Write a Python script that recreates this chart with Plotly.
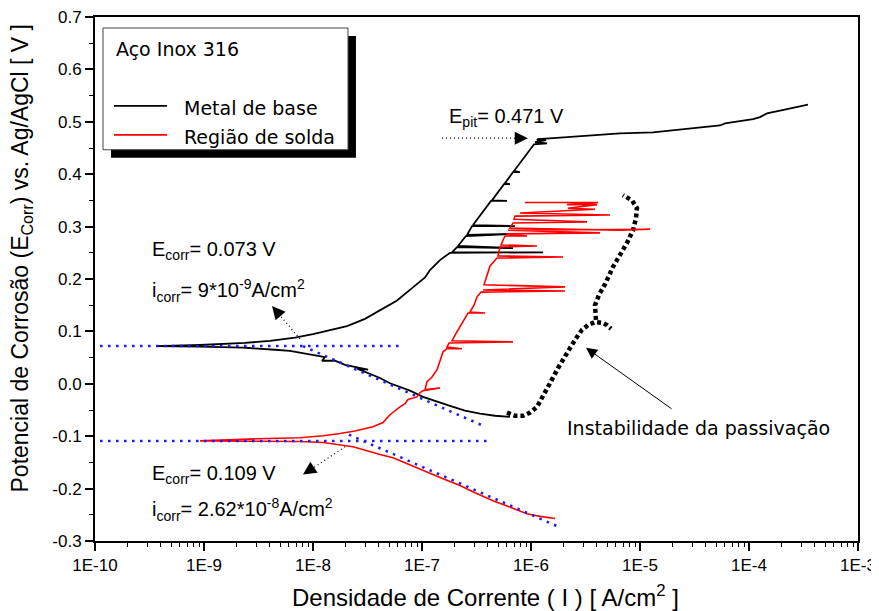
import plotly.graph_objects as go

# ---------------- data (log10 of current density [A/cm2], potential [V]) ----------------
base_logi = [-6.193, -6.330, -6.468, -6.606, -6.743, -6.881, -6.991, -7.110, -7.202, -7.294,
             -7.385, -7.477, -7.596, -7.495, -7.706, -7.798, -7.917, -7.890, -8.119, -8.211,
             -8.349, -8.486, -8.642, -9.037, -9.431,
             -9.037, -8.624, -8.394, -8.165, -8.0, -7.844, -7.688, -7.523, -7.385, -7.229,
             -7.083, -6.972, -6.927, -6.835, -6.743,
             -5.890, -6.725, -6.679, -6.165, -6.670, -6.597, -6.165, -6.587, -6.541, -6.147,
             -6.532, -6.367, -6.220, -6.358, -6.248, -6.193, -6.239, -6.165, -6.101, -6.156,
             -5.972, -5.853, -5.963, -5.862, -5.945, -5.936, -5.798, -5.486, -5.183, -4.881,
             -4.569, -4.266, -4.220, -3.963, -3.899, -3.835, -3.651, -3.459]
base_e = [-0.063, -0.061, -0.057, -0.051, -0.042, -0.032, -0.025, -0.013, -0.006, 0.001,
          0.011, 0.019, 0.029, 0.027, 0.036, 0.044, 0.044, 0.051, 0.060, 0.063,
          0.065, 0.067, 0.069, 0.071, 0.072,
          0.074, 0.078, 0.082, 0.088, 0.095, 0.103, 0.110, 0.124, 0.140, 0.159,
          0.184, 0.203, 0.217, 0.236, 0.250,
          0.251, 0.251, 0.261, 0.259, 0.263, 0.282, 0.286, 0.284, 0.301, 0.301,
          0.303, 0.349, 0.349, 0.350, 0.381, 0.381, 0.383, 0.404, 0.404, 0.406,
          0.457, 0.459, 0.461, 0.465, 0.465, 0.467, 0.469, 0.474, 0.478, 0.480,
          0.486, 0.493, 0.497, 0.505, 0.509, 0.516, 0.524, 0.533]

# passivation instability (dotted continuation of the base metal curve)
instab_logi_a = [-6.220, -6.147, -6.073, -6.009, -5.945, -5.890, -5.826, -5.752, -5.670, -5.596,
                 -5.532, -5.477, -5.413, -5.339, -5.303, -5.266]
instab_e_a = [-0.055, -0.061, -0.061, -0.055, -0.044, -0.025, 0.001, 0.030, 0.059, 0.084,
              0.103, 0.112, 0.118, 0.116, 0.112, 0.105]
instab_logi_b = [-5.404, -5.413, -5.413, -5.376, -5.321, -5.248, -5.183, -5.119, -5.064, -5.037,
                 -5.028, -5.073, -5.156]
instab_e_b = [0.122, 0.135, 0.150, 0.170, 0.190, 0.223, 0.246, 0.269, 0.293, 0.316,
              0.335, 0.350, 0.360]

solda_logi = [-5.780, -5.917, -6.037, -6.193, -6.349, -6.514, -6.651, -6.807, -6.954, -7.110,
              -7.266, -7.385, -7.477, -7.569, -7.633, -7.706, -7.780, -7.908, -8.119, -8.514,
              -9.037,
              -8.514, -8.119, -7.908, -7.752, -7.615, -7.450, -7.358, -7.294, -7.202, -7.156,
              -7.128, -7.046, -7.018, -6.991, -6.835, -6.972, -6.954, -6.908, -6.862, -6.835,
              -6.807, -6.771, -6.633, -6.771, -6.752, -6.165, -6.725, -6.697, -6.651, -6.606,
              -6.578, -6.422, -6.560, -6.523, -6.495, -6.459, -5.688, -6.440, -5.688, -6.431,
              -6.376, -6.312, -5.706, -6.303, -6.284, -5.945, -6.275, -6.257, -6.239, -6.037,
              -6.229, -5.367, -6.211, -4.908, -5.183, -6.193, -6.165, -5.486, -6.156, -6.147,
              -5.275, -6.101, -5.413, -5.661, -5.394, -5.670, -5.385, -6.055]
solda_e = [-0.257, -0.253, -0.248, -0.236, -0.223, -0.208, -0.194, -0.181, -0.168, -0.154,
           -0.141, -0.135, -0.130, -0.124, -0.120, -0.118, -0.116, -0.112, -0.110, -0.110,
           -0.109,
           -0.105, -0.103, -0.099, -0.095, -0.090, -0.082, -0.074, -0.059, -0.044, -0.038,
           -0.030, -0.025, -0.017, -0.013, -0.008, -0.011, 0.004, 0.013, 0.027, 0.042,
           0.061, 0.067, 0.067, 0.070, 0.078, 0.080, 0.082, 0.093, 0.109, 0.126,
           0.135, 0.135, 0.137, 0.150, 0.166, 0.175, 0.177, 0.179, 0.185, 0.189,
           0.225, 0.240, 0.242, 0.244, 0.261, 0.263, 0.265, 0.274, 0.282, 0.282,
           0.286, 0.288, 0.293, 0.295, 0.293, 0.297, 0.307, 0.309, 0.314, 0.320,
           0.322, 0.326, 0.333, 0.335, 0.342, 0.342, 0.346, 0.346]

# Tafel extrapolation lines
tafel_base_h_logi = [-9.954, -7.202]
tafel_base_h_e = [0.072, 0.072]
tafel_base_c_logi = [-8.092, -6.440]
tafel_base_c_e = [0.072, -0.080]
tafel_solda_h_logi = [-9.954, -6.358]
tafel_solda_h_e = [-0.109, -0.109]
tafel_solda_c_logi = [-7.670, -5.734]
tafel_solda_c_e = [-0.097, -0.274]

x_tick_vals = [1e-10, 1e-9, 1e-8, 1e-7, 1e-6, 1e-5, 1e-4, 1e-3]
x_tick_text = ["1E-10", "1E-9", "1E-8", "1E-7", "1E-6", "1E-5", "1E-4", "1E-3"]
y_tick_vals = [-0.3, -0.2, -0.1, 0.0, 0.1, 0.2, 0.3, 0.4, 0.5, 0.6, 0.7]
y_tick_text = ["-0.3", "-0.2", "-0.1", "0.0", "0.1", "0.2", "0.3", "0.4", "0.5", "0.6", "0.7"]


def cur(vals):
    return [10 ** v for v in vals]


fig = go.Figure()

fig.add_trace(go.Scatter(x=cur(base_logi), y=base_e, mode="lines",
                         line=dict(color="black", width=1.8), showlegend=False))
fig.add_trace(go.Scatter(x=cur(instab_logi_a), y=instab_e_a, mode="lines",
                         line=dict(color="black", width=4.5, dash="4px,3px"), showlegend=False))
fig.add_trace(go.Scatter(x=cur(instab_logi_b), y=instab_e_b, mode="lines",
                         line=dict(color="black", width=4.5, dash="4px,3px"), showlegend=False))
fig.add_trace(go.Scatter(x=cur(solda_logi), y=solda_e, mode="lines",
                         line=dict(color="#ff0000", width=1.6), showlegend=False))

for lx, ly in [(tafel_base_h_logi, tafel_base_h_e), (tafel_base_c_logi, tafel_base_c_e),
               (tafel_solda_h_logi, tafel_solda_h_e), (tafel_solda_c_logi, tafel_solda_c_e)]:
    fig.add_trace(go.Scatter(x=cur(lx), y=ly, mode="lines",
                             line=dict(color="#1a1aff", width=2.5, dash="2.5px,5.5px"),
                             showlegend=False))

# dotted arrow stems
for sx, sy in [([-6.817, -6.083], [0.469, 0.469]),
               ([-8.119, -8.330], [0.0857, 0.137]),
               ([-7.706, -8.046], [-0.120, -0.1676])]:
    fig.add_trace(go.Scatter(x=cur(sx), y=sy, mode="lines",
                             line=dict(color="black", width=1.2, dash="1px,3px"),
                             showlegend=False))

arial = "Liberation Sans, Arial, sans-serif"
tahoma = "DejaVu Sans, Verdana, sans-serif"

annotations = []
# arrow heads
for (tx, ty, ax, ay) in [(-6.028, 0.4686, -10, 0), (-8.376, 0.1486, 6.5, 7.6),
                         (-8.092, -0.173, 8.3, -5.5)]:
    annotations.append(dict(x=tx, y=ty, xref="x", yref="y", ax=ax, ay=ay, text="",
                            showarrow=True, arrowhead=2, arrowsize=2.2, arrowwidth=1.2,
                            arrowcolor="black"))
annotations.append(dict(x=-5.495, y=0.0686, xref="x", yref="y", ax=87, ay=62, text="",
                        showarrow=True, arrowhead=2, arrowsize=2.2, arrowwidth=1,
                        arrowcolor="black"))

texts = [
    (-6.771, 0.5086, "E<sub>pit</sub>= 0.471 V"),
    (-9.495, 0.2552, "E<sub>corr</sub>= 0.073 V"),
    (-9.495, 0.179, "i<sub>corr</sub>= 9*10<sup>-9</sup>A/cm<sup>2</sup>"),
    (-9.495, -0.173, "E<sub>corr</sub>= 0.109 V"),
    (-9.495, -0.240, "i<sub>corr</sub>= 2.62*10<sup>-8</sup>A/cm<sup>2</sup>"),
]
for (tx, ty, t) in texts:
    annotations.append(dict(x=tx, y=ty, xref="x", yref="y", text=t, showarrow=False,
                            xanchor="left", yanchor="middle",
                            font=dict(family=arial, size=20, color="black")))
annotations.append(dict(x=-5.688, y=-0.0838, xref="x", yref="y",
                        text="Instabilidade da passivação", showarrow=False,
                        xanchor="left", yanchor="middle",
                        font=dict(family=tahoma, size=19, color="black")))

# legend box texts
annotations.append(dict(x=0.0249, y=0.939, xref="paper", yref="paper", text="Aço Inox 316",
                        showarrow=False, xanchor="left", yanchor="middle",
                        font=dict(family=tahoma, size=19, color="black")))
annotations.append(dict(x=0.114, y=0.8267, xref="paper", yref="paper", text="Metal de base",
                        showarrow=False, xanchor="left", yanchor="middle",
                        font=dict(family=tahoma, size=19, color="black")))
annotations.append(dict(x=0.114, y=0.7714, xref="paper", yref="paper", text="Região de solda",
                        showarrow=False, xanchor="left", yanchor="middle",
                        font=dict(family=tahoma, size=19, color="black")))

# axis titles
annotations.append(dict(x=0.5124, y=-0.1057, xref="paper", yref="paper",
                        text="Densidade de Corrente ( I ) [ A/cm<sup>2</sup> ]",
                        showarrow=False, xanchor="center", yanchor="middle",
                        font=dict(family=arial, size=24, color="black")))
annotations.append(dict(x=-0.0957, y=0.541, xref="paper", yref="paper",
                        text="Potencial de Corrosão (E<sub>Corr</sub>) vs. Ag/AgCl [ V ]",
                        textangle=-90, showarrow=False, xanchor="center", yanchor="middle",
                        font=dict(family=arial, size=23, color="black")))

shapes = [
    dict(type="rect", xref="paper", yref="paper", x0=0.021, x1=0.342, y0=0.7314, y1=0.9638,
         fillcolor="black", line=dict(width=0)),
    dict(type="rect", xref="paper", yref="paper", x0=0.0105, x1=0.3316, y0=0.7467, y1=0.979,
         fillcolor="white", line=dict(color="#444444", width=1)),
    dict(type="line", xref="paper", yref="paper", x0=0.0249, x1=0.0944, y0=0.8305, y1=0.8305,
         line=dict(color="black", width=1.8)),
    dict(type="line", xref="paper", yref="paper", x0=0.0249, x1=0.0944, y0=0.7752, y1=0.7752,
         line=dict(color="#ff0000", width=1.8)),
]

minor_x = [k * 10 ** d for d in range(-10, -3) for k in range(2, 10)]

fig.update_layout(
    width=871, height=603,
    margin=dict(l=87, r=21, t=8.5, b=69.5, autoexpand=False),
    paper_bgcolor="white", plot_bgcolor="white",
    annotations=annotations, shapes=shapes,
    showlegend=False,
    xaxis=dict(type="log", range=[-10, -3], tickmode="array", tickvals=x_tick_vals,
               ticktext=x_tick_text, ticks="outside", ticklen=8, tickwidth=1.5,
               tickcolor="black", showline=True, linecolor="black", linewidth=2,
               mirror=True, showgrid=False, zeroline=False, automargin=False,
               ticklabeloverflow="allow",
               tickfont=dict(family=arial, size=17, color="black"),
               minor=dict(tickmode="array", tickvals=minor_x, ticks="outside", ticklen=4,
                          tickwidth=1.2, tickcolor="black", showgrid=False)),
    yaxis=dict(range=[-0.3, 0.7], tickmode="array", tickvals=y_tick_vals,
               ticktext=y_tick_text, ticks="outside", ticklen=8, tickwidth=1.5,
               tickcolor="black", showline=True, linecolor="black", linewidth=2,
               mirror=True, showgrid=False, zeroline=False, automargin=False,
               ticklabeloverflow="allow",
               tickfont=dict(family=arial, size=17, color="black"),
               minor=dict(dtick=0.05, tick0=0, ticks="outside", ticklen=4,
                          tickwidth=1.2, tickcolor="black", showgrid=False)),
)

fig.write_html("out.html")
